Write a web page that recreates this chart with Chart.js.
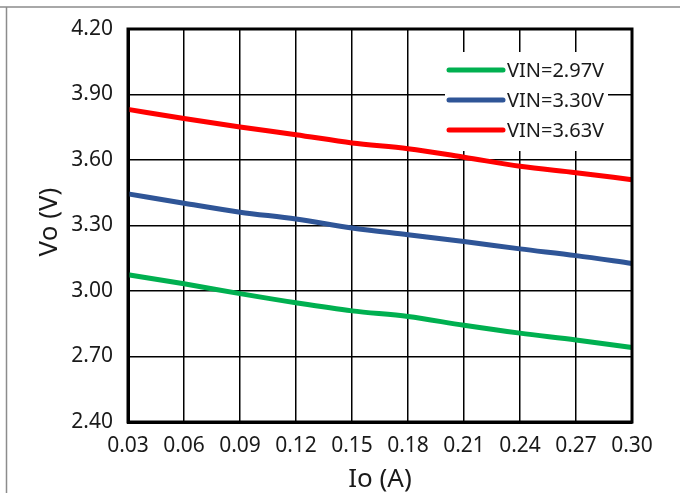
<!DOCTYPE html>
<html>
<head>
<meta charset="utf-8">
<script src="https://cdn.jsdelivr.net/npm/chart.js@4"></script>
<style>
  html, body { margin: 0; padding: 0; background: #fff; }
  canvas { display: block; }
</style>
</head>
<body>
<canvas id="voChart" width="680" height="493"></canvas>
<script>
// load current (A)
var ioValues = [0.03, 0.06, 0.09, 0.12, 0.15, 0.18, 0.21, 0.24, 0.27, 0.30];
var xTickLabels = ['0.03', '0.06', '0.09', '0.12', '0.15', '0.18', '0.21', '0.24', '0.27', '0.30'];
var yTickValues = [2.40, 2.70, 3.00, 3.30, 3.60, 3.90, 4.20];
var yTickLabels = ['2.40', '2.70', '3.00', '3.30', '3.60', '3.90', '4.20'];

// output voltage per input voltage
var vin297 = [3.074, 3.033, 2.988, 2.946, 2.909, 2.883, 2.843, 2.807, 2.776, 2.741];
var vin330 = [3.445, 3.402, 3.361, 3.330, 3.289, 3.258, 3.227, 3.193, 3.162, 3.126];
var vin363 = [3.832, 3.790, 3.751, 3.716, 3.678, 3.652, 3.613, 3.571, 3.542, 3.510];

var seriesLabels = ['VIN=2.97V', 'VIN=3.30V', 'VIN=3.63V'];
var xTitle = 'Io (A)';
var yTitle = 'Vo (V)';

function toPoints(values) {
    return values.map(function (v, i) { return { x: ioValues[i], y: v }; });
}

var font = '"Noto Sans", "Open Sans", sans-serif';
var textColor = '#1a1a1a';

// gray frame at the top and left of the image
var framePlugin = {
    id: 'frame',
    beforeDraw: function (chart) {
        var ctx = chart.ctx;
        ctx.save();
        ctx.strokeStyle = '#8c8c8c';
        ctx.lineWidth = 1.5;
        ctx.beginPath();
        ctx.moveTo(0, 7);
        ctx.lineTo(680, 7);
        ctx.moveTo(6.5, 7);
        ctx.lineTo(6.5, 493);
        ctx.stroke();
        ctx.restore();
    }
};

// legend box drawn inside the plot, over the grid
var boxLegend = {
    id: 'boxLegend',
    afterDatasetsDraw: function (chart) {
        var ctx = chart.ctx;
        ctx.save();
        ctx.fillStyle = '#fff';
        ctx.fillRect(445, 52, 163, 99);
        ctx.font = '20px ' + font;
        ctx.textBaseline = 'middle';
        ctx.textAlign = 'left';
        chart.data.datasets.forEach(function (ds, i) {
            var y = 70 + i * 30;
            ctx.strokeStyle = ds.borderColor;
            ctx.lineWidth = 5;
            ctx.lineCap = 'round';
            ctx.beginPath();
            ctx.moveTo(449, y);
            ctx.lineTo(503, y);
            ctx.stroke();
            ctx.fillStyle = textColor;
            ctx.fillText(ds.label, 507, y + 1);
        });
        ctx.restore();
    }
};

// plot border and axis titles
var framing = {
    id: 'framing',
    afterDraw: function (chart) {
        var a = chart.chartArea;
        var c = chart.ctx;
        c.save();
        c.strokeStyle = '#000';
        c.lineWidth = 3;
        c.strokeRect(a.left, a.top, a.right - a.left, a.bottom - a.top);

        c.fillStyle = textColor;
        c.font = '26px ' + font;
        c.textAlign = 'center';
        c.textBaseline = 'alphabetic';
        c.fillText(xTitle, (a.left + a.right) / 2, 487);

        c.translate(57, 222);
        c.rotate(-Math.PI / 2);
        c.fillText(yTitle, 0, 0);
        c.restore();
    }
};

var colors = ['#00b050', '#2f5597', '#ff0000'];
var seriesData = [vin297, vin330, vin363];

var datasets = seriesData.map(function (vals, i) {
    return {
        label: seriesLabels[i],
        data: toPoints(vals),
        borderColor: colors[i],
        backgroundColor: colors[i],
        borderWidth: 5,
        pointRadius: 0,
        tension: 0.3,
        cubicInterpolationMode: 'monotone',
        clip: false
    };
});

var ctx = document.getElementById('voChart').getContext('2d');
new Chart(ctx, {
    type: 'line',
    data: { datasets: datasets },
    plugins: [framePlugin, boxLegend, framing],
    options: {
        responsive: false,
        animation: false,
        layout: { padding: { left: 0, right: 48, top: 29, bottom: 0 } },
        plugins: {
            legend: { display: false },
            tooltip: { enabled: false }
        },
        scales: {
            x: {
                type: 'linear',
                min: 0.03,
                max: 0.30,
                afterBuildTicks: function (scale) {
                    scale.ticks = ioValues.map(function (v) { return { value: v }; });
                },
                afterFit: function (scale) { scale.height = 71; },
                ticks: {
                    autoSkip: false,
                    maxRotation: 0,
                    padding: 11,
                    color: textColor,
                    font: { family: font, size: 21 },
                    callback: function (value, index) { return xTickLabels[index]; }
                },
                grid: { color: '#000', lineWidth: 1.5, drawTicks: false },
                border: { color: '#000', width: 3 }
            },
            y: {
                type: 'linear',
                min: 2.40,
                max: 4.20,
                afterBuildTicks: function (scale) {
                    scale.ticks = yTickValues.map(function (v) { return { value: v }; });
                },
                afterFit: function (scale) { scale.width = 128; },
                ticks: {
                    padding: 15,
                    color: textColor,
                    font: { family: font, size: 21 },
                    callback: function (value, index) { return yTickLabels[index]; }
                },
                grid: { color: '#000', lineWidth: 1.5, drawTicks: false },
                border: { color: '#000', width: 3 }
            }
        }
    }
});
</script>
</body>
</html>
